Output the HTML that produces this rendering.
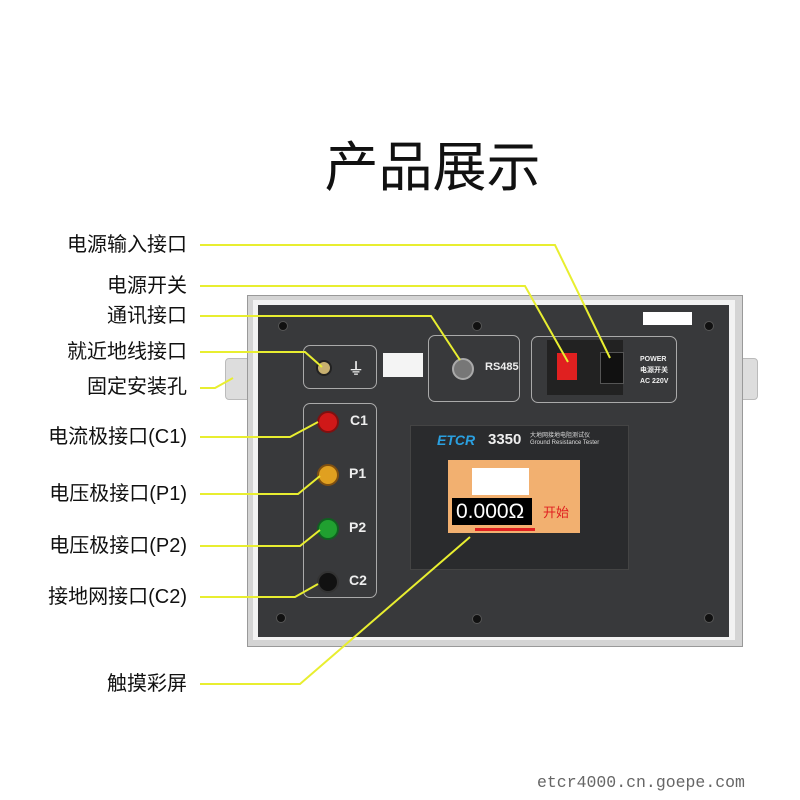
<!DOCTYPE html>
<html><head><meta charset="utf-8"><style>
body{margin:0;background:#fff;}
#c{position:relative;width:800px;height:800px;overflow:hidden;background:#fff;font-family:"Liberation Sans","Noto Sans CJK SC",sans-serif;}
.lbl{position:absolute;right:613px;font-size:20px;color:#111;white-space:nowrap;line-height:20px;}
.abs{position:absolute;}
.box{position:absolute;border:1.5px solid #aaa;border-radius:7px;}
.jack{position:absolute;width:18px;height:18px;border-radius:50%;}
.tl{position:absolute;color:#eee;font-weight:bold;font-size:14px;}
.screw{position:absolute;width:8px;height:8px;border-radius:50%;background:#111;border:1px solid #555;}
</style></head><body><div id="c">
<div class="abs" style="left:0;width:865px;top:123px;text-align:center;font-size:54px;color:#111;font-family:'Noto Sans CJK SC',sans-serif;">产品展示</div>

<div class="abs" style="left:225px;top:358px;width:24px;height:40px;background:#ddd;border:1px solid #bbb;border-radius:4px 0 0 4px;"></div>
<div class="abs" style="left:738px;top:358px;width:18px;height:40px;background:#ddd;border:1px solid #bbb;border-radius:0 4px 4px 0;"></div>
<div class="abs" style="left:247px;top:295px;width:494px;height:350px;background:#d4d4d4;border:1px solid #999;"></div>
<div class="abs" style="left:253px;top:300px;width:482px;height:340px;background:#f2f2f2;"></div>
<div class="abs" style="left:258px;top:305px;width:471px;height:332px;background:#38393b;"></div>

<div class="screw" style="left:278px;top:321px"></div>
<div class="screw" style="left:472px;top:321px"></div>
<div class="screw" style="left:704px;top:321px"></div>
<div class="screw" style="left:276px;top:613px"></div>
<div class="screw" style="left:472px;top:614px"></div>
<div class="screw" style="left:704px;top:613px"></div>

<div class="abs" style="left:643px;top:312px;width:49px;height:13px;background:#fff;"></div>

<div class="box" style="left:303px;top:345px;width:72px;height:42px;"></div>
<div class="abs" style="left:316px;top:360px;width:12px;height:12px;border-radius:50%;background:#c8b070;border:2px solid #222;"></div>
<div class="tl" style="left:348px;top:355px;font-size:16px;">⏚</div>
<div class="abs" style="left:383px;top:353px;width:40px;height:24px;background:#f4f4f4;"></div>

<div class="box" style="left:428px;top:335px;width:90px;height:65px;"></div>
<div class="abs" style="left:452px;top:358px;width:18px;height:18px;border-radius:50%;background:#777;border:2px solid #aaa;"></div>
<div class="tl" style="left:485px;top:361px;font-size:11px;">RS485</div>

<div class="box" style="left:531px;top:336px;width:144px;height:65px;"></div>
<div class="abs" style="left:547px;top:340px;width:76px;height:55px;background:#222;"></div>
<div class="abs" style="left:557px;top:353px;width:20px;height:27px;background:#e02020;"></div>
<div class="abs" style="left:600px;top:352px;width:22px;height:30px;background:#111;border:1px solid #555;"></div>
<div class="tl" style="left:640px;top:354px;font-size:7px;line-height:11px;">POWER<br>电源开关<br>AC 220V</div>

<div class="box" style="left:303px;top:403px;width:72px;height:193px;"></div>
<div class="jack" style="left:317px;top:411px;background:#d01818;border:2px solid #801010"></div>
<div class="jack" style="left:317px;top:464px;background:#e0a020;border:2px solid #805010"></div>
<div class="jack" style="left:317px;top:518px;background:#20a030;border:2px solid #106020"></div>
<div class="jack" style="left:317px;top:571px;background:#111;border:2px solid #333"></div>
<div class="tl" style="left:350px;top:412px;">C1</div>
<div class="tl" style="left:349px;top:465px;">P1</div>
<div class="tl" style="left:349px;top:519px;">P2</div>
<div class="tl" style="left:349px;top:572px;">C2</div>

<div class="abs" style="left:410px;top:425px;width:217px;height:143px;background:#2a2b2d;border:1px solid #444;"></div>
<div class="abs" style="left:437px;top:432px;font-size:14px;font-weight:bold;color:#2aa0e0;font-style:italic;">ETCR</div>
<div class="abs" style="left:488px;top:431px;font-size:15px;font-weight:bold;color:#eee;">3350</div>
<div class="abs" style="left:530px;top:433px;font-size:6px;color:#ddd;line-height:7px;">大地网接地电阻测试仪<br>Ground Resistance Tester</div>
<div class="abs" style="left:448px;top:460px;width:132px;height:73px;background:#f2b070;"></div>
<div class="abs" style="left:472px;top:468px;width:57px;height:27px;background:#fff;"></div>
<div class="abs" style="left:452px;top:498px;width:80px;height:27px;background:#000;color:#fff;font-size:21px;line-height:27px;text-indent:4px;">0.000Ω</div>
<div class="abs" style="left:534px;top:498px;width:44px;height:27px;color:#e02020;font-size:13px;line-height:27px;text-align:center;font-family:'Noto Sans CJK SC',sans-serif;">开始</div>
<div class="abs" style="left:475px;top:528px;width:60px;height:3px;background:#e02020;"></div>

<svg class="abs" style="left:0;top:0" width="800" height="800">
<g stroke="#e8ee30" stroke-width="2" fill="none">
<polyline points="200,245 555,245 610,358"/>
<polyline points="200,286 525,286 568,362"/>
<polyline points="200,316 431,316 460,360"/>
<polyline points="200,352 305,352 322,367"/>
<polyline points="200,388 215,388 233,378"/>
<polyline points="200,437 290,437 318,422"/>
<polyline points="200,494 298,494 320,476"/>
<polyline points="200,546 300,546 320,530"/>
<polyline points="200,597 295,597 318,584"/>
<polyline points="200,684 300,684 470,537"/>
</g></svg>

<div class="lbl" style="top:235px">电源输入接口</div>
<div class="lbl" style="top:276px">电源开关</div>
<div class="lbl" style="top:306px">通讯接口</div>
<div class="lbl" style="top:342px">就近地线接口</div>
<div class="lbl" style="top:377px">固定安装孔</div>
<div class="lbl" style="top:427px">电流极接口(C1)</div>
<div class="lbl" style="top:484px">电压极接口(P1)</div>
<div class="lbl" style="top:536px">电压极接口(P2)</div>
<div class="lbl" style="top:587px">接地网接口(C2)</div>
<div class="lbl" style="top:674px">触摸彩屏</div>

<div class="abs" style="left:537px;top:773px;font-family:'Liberation Mono',monospace;font-size:16.5px;color:#666;">etcr4000.cn.goepe.com</div>
</div></body></html>
